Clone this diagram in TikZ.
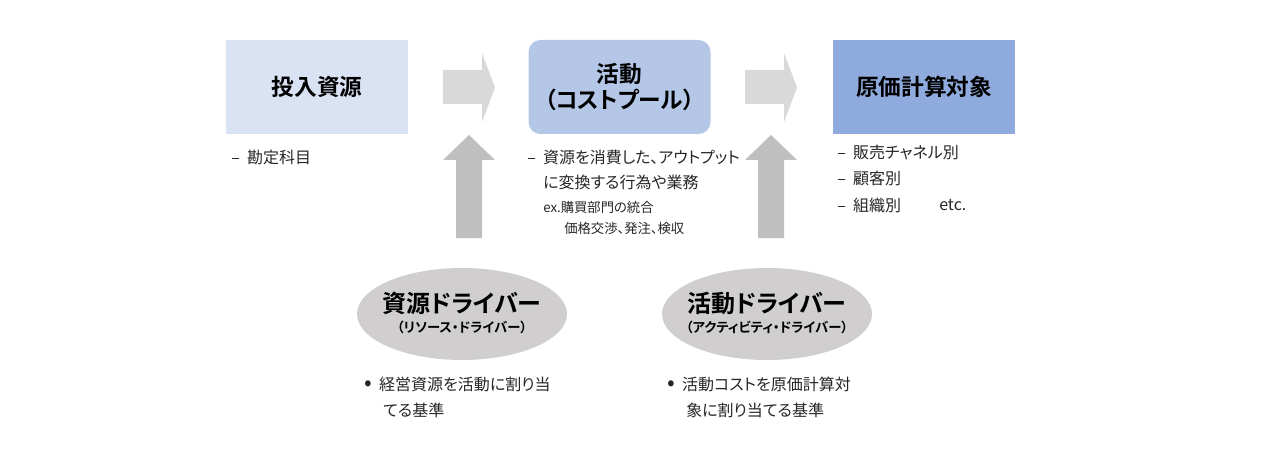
\documentclass[tikz,border=0pt]{standalone}
\usepackage{fontspec}
\setmainfont{Noto Sans CJK JP}[BoldFont={Noto Sans CJK JP Bold},RawFeature=+palt]
\usetikzlibrary{shapes.geometric}

\definecolor{inputblue}{RGB}{218,227,243}
\definecolor{poolblue}{RGB}{180,199,231}
\definecolor{objblue}{RGB}{143,170,220}
\definecolor{flowgray}{RGB}{217,217,217}
\definecolor{drivegray}{RGB}{191,191,191}
\definecolor{ovalgray}{RGB}{208,206,206}
\definecolor{inkgray}{RGB}{38,38,38}

\newcommand{\bigdot}{{\fontsize{17}{14}\selectfont •}}

\tikzset{
  stagebox/.style={draw=none,minimum width=136.5pt,minimum height=70.5pt,inner sep=0pt,align=center,
    font=\fontsize{17}{20}\selectfont\bfseries,text=black},
  driveroval/.style={ellipse,draw=none,fill=ovalgray,minimum width=157.5pt,minimum height=69pt,inner sep=0pt},
  note/.style={anchor=west,inner sep=0.75pt,text=inkgray,font=\fontsize{12}{14}\selectfont},
  smallnote/.style={anchor=west,inner sep=0.75pt,text=inkgray,font=\fontsize{10}{12}\selectfont}
}

\begin{document}
\begin{tikzpicture}[x=0.75pt,y=0.75pt,yscale=-1,xscale=1]
\path[use as bounding box] (0,0) rectangle (1266,456);

%Shape: Rectangle
\node[stagebox,fill=inputblue] (input) at (317,87) {投入資源};
%Rounded Rect
\node[stagebox,fill=poolblue,rounded corners=9pt] (pool) at (619.5,87) {活動\\（コストプール）};
%Shape: Rectangle
\node[stagebox,fill=objblue] (object) at (924,87) {原価計算対象};

%Right Arrow
\fill[flowgray] (443,70) -- (482,70) -- (482,53) -- (495,87.5) -- (482,122) -- (482,104) -- (443,104) -- cycle;
%Right Arrow
\fill[flowgray] (745,70) -- (784,70) -- (784,53) -- (797,87.5) -- (784,122) -- (784,104) -- (745,104) -- cycle;
%Up Arrow
\fill[drivegray] (456,238) -- (456,160) -- (443,160) -- (469,135) -- (495,160) -- (482,160) -- (482,238) -- cycle;
%Up Arrow
\fill[drivegray] (758,238) -- (758,160) -- (745,160) -- (771,135) -- (797,160) -- (784,160) -- (784,238) -- cycle;

%Shape: Ellipse
\node[driveroval] (resdriver) at (462,314) {};
\node[font=\fontsize{18}{20}\selectfont\bfseries,inner sep=0pt] (resname) at (462,303) {資源ドライバー};
\node[font=\fontsize{10}{12}\selectfont\bfseries,inner sep=0pt] (reskana) at (462,327) {（リソース・ドライバー）};
%Shape: Ellipse
\node[driveroval] (actdriver) at (767,314) {};
\node[font=\fontsize{18}{20}\selectfont\bfseries,inner sep=0pt] (actname) at (767,303) {活動ドライバー};
\node[font=\fontsize{10}{12}\selectfont\bfseries,inner sep=0pt] (actkana) at (767,327) {（アクティビティ・ドライバー）};

% Text Node
\node[note] (account) at (230,157) {–\ \ 勘定科目};
% Text Node
\node[note] (poolline1) at (526,157) {–\ \ 資源を消費した、アウトプット};
\node[note] (poolline2) at (542,182) {に変換する行為や業務};
\node[smallnote] (poolex1) at (542,207) {ex.購買部門の統合};
\node[smallnote] (poolex2) at (563,228) {価格交渉、発注、検収};
% Text Node
\node[note] (objline1) at (836,152) {–\ \ 販売チャネル別};
\node[note] (objline2) at (836,178) {–\ \ 顧客別};
\node[note] (objline3) at (836,205) {–\ \ 組織別};
\node[note] (objetc) at (938,205) {etc.};
% Text Node
\node[note] (resline1) at (363,384) {\bigdot\ \ 経営資源を活動に割り当};
\node[note] (resline2) at (382,410) {てる基準};
% Text Node
\node[note] (actline1) at (666,384) {\bigdot\ \ 活動コストを原価計算対};
\node[note] (actline2) at (685,410) {象に割り当てる基準};

\end{tikzpicture}
\end{document}
